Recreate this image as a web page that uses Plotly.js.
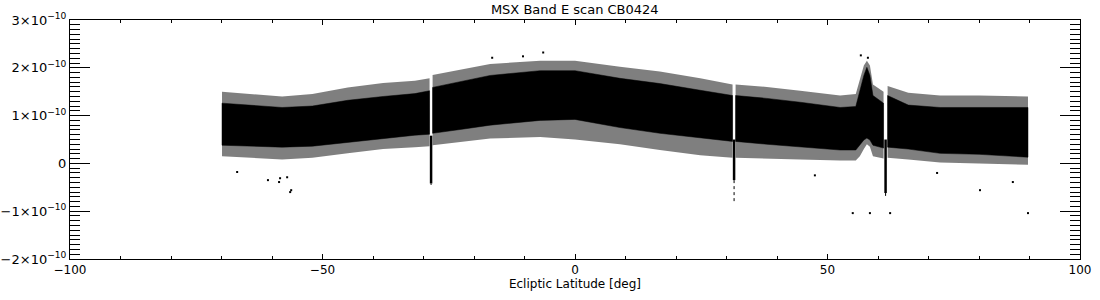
<!DOCTYPE html>
<html>
<head>
<meta charset="utf-8">
<script src="https://cdn.plot.ly/plotly-3.0.1.min.js"></script>
<style>html,body{margin:0;padding:0;background:#fff;}#chart{width:1100px;height:300px;}</style>
</head>
<body>
<div id="chart"></div>
<script>
// Ecliptic latitude samples along the scan (deg)
const lat        = [-69.9, -64, -58.0, -52, -45.0, -38, -31.7, -28.8,
                    -28.2, -22, -16.8, -6.9, 0, 8.9, 16.8, 24.8, 31.2,
                    31.8, 38, 44.6, 52.5, 55.6, 56.4, 57.2, 57.8, 58.4, 59.0, 61.1,
                    61.9, 66, 72.3, 80, 89.7];
// dense core of the scatter band (upper / lower edge)
const coreTop    = [1.26e-10, 1.22e-10, 1.17e-10, 1.20e-10, 1.32e-10, 1.40e-10, 1.46e-10, 1.52e-10,
                    1.59e-10, 1.72e-10, 1.84e-10, 1.94e-10, 1.94e-10, 1.78e-10, 1.67e-10, 1.53e-10, 1.42e-10,
                    1.42e-10, 1.36e-10, 1.28e-10, 1.17e-10, 1.19e-10, 1.53e-10, 1.84e-10, 2.01e-10, 1.84e-10, 1.42e-10, 1.26e-10,
                    1.42e-10, 1.22e-10, 1.17e-10, 1.17e-10, 1.17e-10];
const coreBot    = [0.38e-10, 0.36e-10, 0.34e-10, 0.36e-10, 0.44e-10, 0.52e-10, 0.59e-10, 0.61e-10,
                    0.63e-10, 0.72e-10, 0.80e-10, 0.90e-10, 0.92e-10, 0.75e-10, 0.63e-10, 0.53e-10, 0.46e-10,
                    0.46e-10, 0.40e-10, 0.34e-10, 0.28e-10, 0.28e-10, 0.38e-10, 0.49e-10, 0.53e-10, 0.49e-10, 0.38e-10, 0.32e-10,
                    0.34e-10, 0.30e-10, 0.21e-10, 0.19e-10, 0.13e-10];
// sparse fringe of scattered points around the core
const fringeTop  = [1.50e-10, 1.45e-10, 1.40e-10, 1.45e-10, 1.59e-10, 1.68e-10, 1.73e-10, 1.78e-10,
                    1.85e-10, 1.98e-10, 2.08e-10, 2.15e-10, 2.15e-10, 2.02e-10, 1.92e-10, 1.78e-10, 1.65e-10,
                    1.65e-10, 1.60e-10, 1.52e-10, 1.42e-10, 1.45e-10, 1.78e-10, 2.05e-10, 2.15e-10, 2.05e-10, 1.65e-10, 1.50e-10,
                    1.62e-10, 1.48e-10, 1.42e-10, 1.42e-10, 1.40e-10];
const fringeBot  = [0.15e-10, 0.12e-10, 0.08e-10, 0.12e-10, 0.21e-10, 0.30e-10, 0.34e-10, 0.36e-10,
                    0.38e-10, 0.45e-10, 0.52e-10, 0.55e-10, 0.50e-10, 0.40e-10, 0.28e-10, 0.17e-10, 0.12e-10,
                    0.12e-10, 0.10e-10, 0.08e-10, 0.06e-10, 0.06e-10, 0.15e-10, 0.30e-10, 0.40e-10, 0.35e-10, 0.15e-10, 0.10e-10,
                    0.12e-10, 0.08e-10, 0.02e-10, 0.00e-10, -0.03e-10];
// data gaps (white stripes) in the scan
const gapLat     = [-28.5, 31.5, 61.5];
// negative spikes at the gaps
const spikeLat   = [-28.5, 31.5, 61.5];
const spikeTop   = [0.58e-10, 0.50e-10, 0.50e-10];
const spikeBot   = [-0.42e-10, -0.35e-10, -0.62e-10];
const spikeTail  = [-0.45e-10, -0.82e-10, -0.68e-10];
// isolated outlying samples
const outLat     = [-66.9, -60.8, -58.6, -56.4, -57.0, -56.2, -58.4, 47.5, 71.7, 80.2, 86.7,
                    -16.4, -10.3, -6.3, 56.6, 58.0, 55.0, 58.4, 62.4, 89.7];
const outVal     = [-0.18e-10, -0.35e-10, -0.39e-10, -0.60e-10, -0.29e-10, -0.56e-10, -0.31e-10, -0.25e-10, -0.20e-10, -0.56e-10, -0.39e-10,
                    2.21e-10, 2.24e-10, 2.32e-10, 2.26e-10, 2.21e-10, -1.04e-10, -1.04e-10, -1.04e-10, -1.04e-10];
// axis ticks
const xTickVals  = [-100, -50, 0, 50, 100];
const xTickText  = ['\u2212100', '\u221250', '0', '50', '100'];
const yTickVals  = [-2e-10, -1e-10, 0, 1e-10, 2e-10, 3e-10];
const yTickText  = ['\u22122\u00d710<sup>\u221210</sup>', '\u22121\u00d710<sup>\u221210</sup>', '0',
                    '1\u00d710<sup>\u221210</sup>', '2\u00d710<sup>\u221210</sup>', '3\u00d710<sup>\u221210</sup>'];

// build band polygons, split at the gaps
function bandPolygon(top, bot) {
  const segs = [];
  let cur = [];
  for (let i = 0; i < lat.length; i++) {
    if (cur.length && gapLat.some(g => lat[i - 1] < g && lat[i] > g)) { segs.push(cur); cur = []; }
    cur.push(i);
  }
  segs.push(cur);
  const xs = [], ys = [];
  segs.forEach((s, k) => {
    if (k) { xs.push(null); ys.push(null); }
    s.forEach(i => { xs.push(lat[i]); ys.push(top[i]); });
    s.slice().reverse().forEach(i => { xs.push(lat[i]); ys.push(bot[i]); });
    xs.push(lat[s[0]]); ys.push(top[s[0]]);
  });
  return {xs, ys};
}
const fr = bandPolygon(fringeTop, fringeBot);
const co = bandPolygon(coreTop, coreBot);

function segs(xv, y0, y1) {
  const xs = [], ys = [];
  xv.forEach((x, i) => { xs.push(x, x, null); ys.push(y0[i], y1[i], null); });
  return {xs, ys};
}
const sp = segs(spikeLat, spikeTop, spikeBot);
const st = segs(spikeLat, spikeBot, spikeTail);

const traces = [
  {x: fr.xs, y: fr.ys, type: 'scatter', mode: 'lines', fill: 'toself',
   fillcolor: 'rgba(0,0,0,0.5)', line: {width: 0}, hoverinfo: 'skip'},
  {x: co.xs, y: co.ys, type: 'scatter', mode: 'lines', fill: 'toself',
   fillcolor: '#000', line: {width: 0.5, color: '#000'}, hoverinfo: 'skip'},
  {x: sp.xs, y: sp.ys, type: 'scatter', mode: 'lines', line: {width: 2.5, color: '#000'}, hoverinfo: 'skip'},
  {x: st.xs, y: st.ys, type: 'scatter', mode: 'lines', line: {width: 1, color: '#000', dash: 'dot'}, hoverinfo: 'skip'},
  {x: outLat, y: outVal, type: 'scatter', mode: 'markers',
   marker: {symbol: 'square', size: 2, color: '#000', line: {width: 0}}, hoverinfo: 'skip'}
];

const F = 'DejaVu Sans, Liberation Sans, sans-serif';
const layout = {
  width: 1100, height: 300,
  margin: {l: 70, r: 20, t: 20, b: 41, pad: 0},
  paper_bgcolor: '#fff', plot_bgcolor: '#fff',
  showlegend: false,
  font: {family: F, size: 12, color: '#000'},
  title: {text: 'MSX Band E scan CB0424', font: {family: F, size: 13, color: '#000'},
          x: 0.5225, xref: 'container', xanchor: 'center', y: 0.967, yref: 'container', yanchor: 'middle'},
  xaxis: {
    range: [-100, 100], showgrid: false, zeroline: false,
    showline: true, linecolor: '#000', linewidth: 1, mirror: 'allticks',
    ticks: 'inside', ticklen: 5, tickwidth: 1, tickcolor: '#000',
    tickmode: 'array', tickvals: xTickVals, ticktext: xTickText,
    tickfont: {family: F, size: 12, color: '#000'},
    minor: {dtick: 10, ticks: 'inside', ticklen: 3, tickcolor: '#000', tickwidth: 1, showgrid: false},
    title: {text: 'Ecliptic Latitude [deg]', font: {family: F, size: 12, color: '#000'}, standoff: 2}
  },
  yaxis: {
    range: [-2e-10, 3e-10], showgrid: false, zeroline: false,
    showline: true, linecolor: '#000', linewidth: 1, mirror: 'allticks',
    ticks: 'inside', ticklen: 20, tickwidth: 1, tickcolor: '#000',
    tickmode: 'array', tickvals: yTickVals, ticktext: yTickText,
    tickfont: {family: F, size: 13, color: '#000'},
    minor: {dtick: 1e-11, tick0: 0, ticks: 'inside', ticklen: 10, tickcolor: '#000', tickwidth: 1, showgrid: false}
  }
};

Plotly.newPlot('chart', traces, layout, {staticPlot: true, displayModeBar: false});
</script>
</body>
</html>
